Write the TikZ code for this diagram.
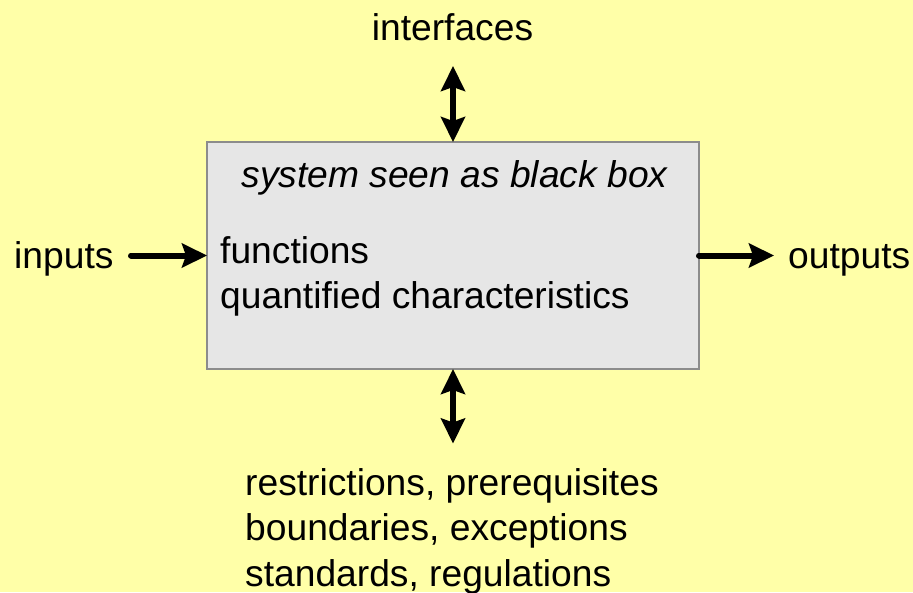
\documentclass[tikz,border=0pt]{standalone}
\usepackage{fontspec}
\setmainfont{Liberation Sans}
\usetikzlibrary{arrows.meta}
\definecolor{bgyellow}{HTML}{FFFFA8}
\definecolor{boxgray}{HTML}{E6E6E6}
\definecolor{bordergray}{HTML}{8C8C8C}
\tikzset{
  lbl/.style={inner sep=0pt, font=\fontsize{37.2}{44}\selectfont, text=black},
  blackbox/.style={draw=bordergray, line width=1.5pt, fill=boxgray, minimum width=492pt, minimum height=227pt, inner sep=0pt, outer sep=0pt},
  arr/.style={line width=6pt, line cap=round, -{Stealth[length=25pt,width=24pt,inset=4pt]}},
  darr/.style={line width=6pt, {Stealth[length=25pt,width=24pt,inset=4pt]}-{Stealth[length=25pt,width=24pt,inset=4pt]}}
}
\begin{document}
\begin{tikzpicture}[x=1pt,y=-1pt]
\fill[bgyellow] (0,0) rectangle (913,592);
\useasboundingbox (0,0) rectangle (913,592);
\node[blackbox] (box) at (453,255.5) {};
\node[lbl, anchor=base] (title) at (454.5,187) {\itshape system seen as black box};
\node[lbl, anchor=base west] (func) at (220,263.5) {functions};
\node[lbl, anchor=base west] (quant) at (220,308.5) {quantified characteristics};
\node[lbl, anchor=base] (intf) at (452.5,40.5) {interfaces};
\node[lbl, anchor=base west] (inp) at (14,268.5) {inputs};
\node[lbl, anchor=base west] (outp) at (788,268.5) {outputs};
\node[lbl, anchor=base west] (r1) at (245,495) {restrictions, prerequisites};
\node[lbl, anchor=base west] (r2) at (245,540.5) {boundaries, exceptions};
\node[lbl, anchor=base west] (r3) at (245,586) {standards, regulations};
\coordinate (inS) at (131,255.5);
\coordinate (outE) at (774,255.5);
\coordinate (topE) at (453,66);
\coordinate (botE) at (453,443.5);
\draw[arr] (inS) -- (box.west);
\draw[arr] (box.east) -- (outE);
\draw[darr] (topE) -- (box.north);
\draw[darr] (box.south) -- (botE);
\end{tikzpicture}
\end{document}
